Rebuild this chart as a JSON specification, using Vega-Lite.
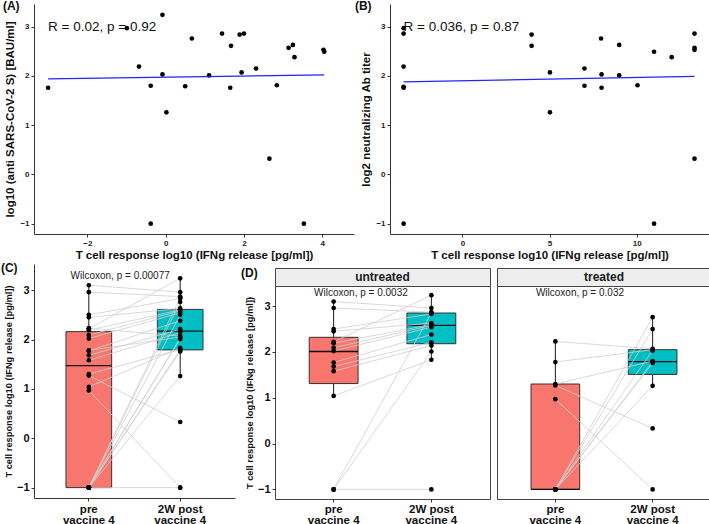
{
  "$schema": "https://vega.github.io/schema/vega-lite/v6.json",
  "padding": 0,
  "background": "white",
  "config": {
    "font": "Liberation Sans",
    "view": {"stroke": null},
    "axis": {"grid": false, "domainColor": "#333", "tickColor": "#333", "labelColor": "#222", "titleColor": "#111", "labelFontWeight": "bold", "titleFontWeight": "bold", "tickSize": 3, "labelPadding": 2},
    "title": {"fontSize": 12, "fontWeight": "bold", "anchor": "start", "frame": "bounds", "color": "#111"}
  },
  "datasets": {
    "A": [
      {"x": -3.0, "y": 1.76}, {"x": -0.99, "y": 2.97}, {"x": -0.68, "y": 2.19}, {"x": -0.38, "y": 1.80}, {"x": -0.38, "y": -1},
      {"x": -0.08, "y": 3.24}, {"x": -0.08, "y": 2.03}, {"x": 0.02, "y": 1.26}, {"x": 0.50, "y": 1.79}, {"x": 0.67, "y": 2.76},
      {"x": 1.11, "y": 2.01}, {"x": 1.44, "y": 2.86}, {"x": 1.65, "y": 1.76}, {"x": 1.67, "y": 2.61}, {"x": 1.89, "y": 2.84},
      {"x": 2.0, "y": 2.86}, {"x": 1.94, "y": 2.07}, {"x": 2.31, "y": 2.15}, {"x": 2.65, "y": 0.32}, {"x": 2.84, "y": 1.81},
      {"x": 3.14, "y": 2.57}, {"x": 3.25, "y": 2.63}, {"x": 3.29, "y": 2.38}, {"x": 3.53, "y": -1}, {"x": 4.03, "y": 2.53},
      {"x": 4.05, "y": 2.49}
    ],
    "Afit": [{"x": -3.0, "y": 1.94}, {"x": 4.05, "y": 2.02}],
    "B": [
      {"x": -3.37, "y": 2.97}, {"x": -3.37, "y": 2.86}, {"x": -3.37, "y": 2.19}, {"x": -3.37, "y": 1.78}, {"x": -3.37, "y": 1.76},
      {"x": -3.37, "y": -1}, {"x": 3.97, "y": 2.84}, {"x": 3.97, "y": 2.61}, {"x": 5.02, "y": 2.07}, {"x": 5.02, "y": 1.26},
      {"x": 7.0, "y": 2.15}, {"x": 7.0, "y": 1.80}, {"x": 7.95, "y": 2.76}, {"x": 7.98, "y": 2.03}, {"x": 7.98, "y": 1.76},
      {"x": 8.99, "y": 2.63}, {"x": 8.99, "y": 2.01}, {"x": 10.04, "y": 1.81}, {"x": 10.99, "y": 2.49}, {"x": 10.99, "y": -1},
      {"x": 12.0, "y": 2.38}, {"x": 13.31, "y": 2.86}, {"x": 13.31, "y": 2.57}, {"x": 13.31, "y": 2.53}, {"x": 13.31, "y": 0.32}
    ],
    "Bfit": [{"x": -3.37, "y": 1.88}, {"x": 13.31, "y": 1.99}],
    "pairs": [
      {"id": "u1", "grp": "untreated", "time": "pre", "value": 3.10}, {"id": "u1", "grp": "untreated", "time": "post", "value": 2.96},
      {"id": "u2", "grp": "untreated", "time": "pre", "value": 2.96}, {"id": "u2", "grp": "untreated", "time": "post", "value": 2.87},
      {"id": "u3", "grp": "untreated", "time": "pre", "value": 2.50}, {"id": "u3", "grp": "untreated", "time": "post", "value": 2.83},
      {"id": "u4", "grp": "untreated", "time": "pre", "value": 2.45}, {"id": "u4", "grp": "untreated", "time": "post", "value": 2.63},
      {"id": "u5", "grp": "untreated", "time": "pre", "value": 2.22}, {"id": "u5", "grp": "untreated", "time": "post", "value": 3.24},
      {"id": "u6", "grp": "untreated", "time": "pre", "value": 2.19}, {"id": "u6", "grp": "untreated", "time": "post", "value": 2.60},
      {"id": "u7", "grp": "untreated", "time": "pre", "value": 2.09}, {"id": "u7", "grp": "untreated", "time": "post", "value": 2.58},
      {"id": "u8", "grp": "untreated", "time": "pre", "value": 2.02}, {"id": "u8", "grp": "untreated", "time": "post", "value": 2.54},
      {"id": "u9", "grp": "untreated", "time": "pre", "value": 1.77}, {"id": "u9", "grp": "untreated", "time": "post", "value": 2.38},
      {"id": "u10", "grp": "untreated", "time": "pre", "value": 1.68}, {"id": "u10", "grp": "untreated", "time": "post", "value": 2.21},
      {"id": "u11", "grp": "untreated", "time": "pre", "value": 1.58}, {"id": "u11", "grp": "untreated", "time": "post", "value": 2.14},
      {"id": "u12", "grp": "untreated", "time": "pre", "value": 1.04}, {"id": "u12", "grp": "untreated", "time": "post", "value": 1.83},
      {"id": "u13", "grp": "untreated", "time": "pre", "value": -1}, {"id": "u13", "grp": "untreated", "time": "post", "value": 2.85},
      {"id": "u14", "grp": "untreated", "time": "pre", "value": -1}, {"id": "u14", "grp": "untreated", "time": "post", "value": 2.01},
      {"id": "u15", "grp": "untreated", "time": "pre", "value": -1}, {"id": "u15", "grp": "untreated", "time": "post", "value": -1},
      {"id": "t1", "grp": "treated", "time": "pre", "value": 2.23}, {"id": "t1", "grp": "treated", "time": "post", "value": 2.07},
      {"id": "t2", "grp": "treated", "time": "pre", "value": 1.78}, {"id": "t2", "grp": "treated", "time": "post", "value": 2.05},
      {"id": "t3", "grp": "treated", "time": "pre", "value": 1.30}, {"id": "t3", "grp": "treated", "time": "post", "value": 1.80},
      {"id": "t4", "grp": "treated", "time": "pre", "value": 1.27}, {"id": "t4", "grp": "treated", "time": "post", "value": 0.33},
      {"id": "t5", "grp": "treated", "time": "pre", "value": 0.97}, {"id": "t5", "grp": "treated", "time": "post", "value": -1},
      {"id": "t6", "grp": "treated", "time": "pre", "value": -1}, {"id": "t6", "grp": "treated", "time": "post", "value": 2.76},
      {"id": "t7", "grp": "treated", "time": "pre", "value": -1}, {"id": "t7", "grp": "treated", "time": "post", "value": 2.50},
      {"id": "t8", "grp": "treated", "time": "pre", "value": -1}, {"id": "t8", "grp": "treated", "time": "post", "value": 2.03},
      {"id": "t9", "grp": "treated", "time": "pre", "value": -1}, {"id": "t9", "grp": "treated", "time": "post", "value": 1.79},
      {"id": "t10", "grp": "treated", "time": "pre", "value": -1}, {"id": "t10", "grp": "treated", "time": "post", "value": 1.76},
      {"id": "t11", "grp": "treated", "time": "pre", "value": -1}, {"id": "t11", "grp": "treated", "time": "post", "value": 1.26}
    ],
    "box": [
      {"panel": "C", "time": "pre", "lower": -1, "q1": -1, "median": 1.47, "q3": 2.16, "upper": 3.10},
      {"panel": "C", "time": "post", "lower": 1.25, "q1": 1.79, "median": 2.17, "q3": 2.61, "upper": 3.24},
      {"panel": "untreated", "time": "pre", "lower": 1.04, "q1": 1.31, "median": 2.01, "q3": 2.32, "upper": 3.10},
      {"panel": "untreated", "time": "post", "lower": 1.83, "q1": 2.18, "median": 2.58, "q3": 2.85, "upper": 3.24},
      {"panel": "treated", "time": "pre", "lower": -1, "q1": -1, "median": -1, "q3": 1.30, "upper": 2.23},
      {"panel": "treated", "time": "post", "lower": 1.26, "q1": 1.51, "median": 1.79, "q3": 2.05, "upper": 2.76}
    ],
    "lab": [
      {"panel": "C", "time": "pre", "value": 3.29, "label": "Wilcoxon, p = 0.00077"},
      {"panel": "untreated", "time": "pre", "value": 3.29, "label": "Wilcoxon, p = 0.0032"},
      {"panel": "treated", "time": "pre", "value": 3.29, "label": "Wilcoxon, p = 0.032"}
    ]
  },
  "spacing": 1,
  "vconcat": [
    {
      "spacing": 0,
      "hconcat": [
        {
          "width": 320, "height": 230,
          "title": {"text": "(A)", "offset": -9, "dx": -2},
          "layer": [
            {
              "data": {"name": "A"},
              "mark": {"type": "circle", "size": 22, "color": "black", "opacity": 1},
              "encoding": {
                "x": {"field": "x", "type": "quantitative", "scale": {"domain": [-3.36, 4.81], "nice": false, "zero": false},
                      "axis": {"values": [-2, 0, 2, 4], "title": "T cell response log10 (IFNg release [pg/ml])", "labelFontSize": 8, "titleFontSize": 11.5, "titlePadding": 2}},
                "y": {"field": "y", "type": "quantitative", "scale": {"domain": [-1.21, 3.46], "nice": false, "zero": false},
                      "axis": {"values": [-1, 0, 1, 2, 3], "title": "log10  (anti SARS-CoV-2 S)  [BAU/ml]", "labelFontSize": 8, "titleFontSize": 11.5, "titlePadding": 4}}
              }
            },
            {
              "data": {"name": "Afit"},
              "mark": {"type": "line", "color": "#2323ff", "strokeWidth": 1.2},
              "encoding": {"x": {"field": "x", "type": "quantitative"}, "y": {"field": "y", "type": "quantitative"}}
            },
            {
              "data": {"values": [{"x": -3.0, "y": 3.0, "label": "R = 0.02, p = 0.92"}]},
              "mark": {"type": "text", "align": "left", "baseline": "middle", "fontSize": 13.5, "color": "#111"},
              "encoding": {"x": {"field": "x", "type": "quantitative"}, "y": {"field": "y", "type": "quantitative"}, "text": {"field": "label"}}
            }
          ]
        },
        {
          "width": 319, "height": 230,
          "title": {"text": "(B)", "offset": -9, "dx": -6},
          "layer": [
            {
              "data": {"name": "B"},
              "mark": {"type": "circle", "size": 22, "color": "black", "opacity": 1},
              "encoding": {
                "x": {"field": "x", "type": "quantitative", "scale": {"domain": [-4.15, 14.14], "nice": false, "zero": false},
                      "axis": {"values": [0, 5, 10], "title": "T cell response log10 (IFNg release [pg/ml])", "labelFontSize": 8, "titleFontSize": 11.5, "titlePadding": 2}},
                "y": {"field": "y", "type": "quantitative", "scale": {"domain": [-1.21, 3.46], "nice": false, "zero": false},
                      "axis": {"values": [-1, 0, 1, 2, 3], "title": "log2 neutralizing Ab titer", "labelFontSize": 8, "titleFontSize": 11.5, "titlePadding": 4}}
              }
            },
            {
              "data": {"name": "Bfit"},
              "mark": {"type": "line", "color": "#2323ff", "strokeWidth": 1.2},
              "encoding": {"x": {"field": "x", "type": "quantitative"}, "y": {"field": "y", "type": "quantitative"}}
            },
            {
              "data": {"values": [{"x": -3.37, "y": 3.0, "label": "R = 0.036, p = 0.87"}]},
              "mark": {"type": "text", "align": "left", "baseline": "middle", "fontSize": 13.5, "color": "#111"},
              "encoding": {"x": {"field": "x", "type": "quantitative"}, "y": {"field": "y", "type": "quantitative"}, "text": {"field": "label"}}
            }
          ]
        }
      ]
    },
    {
      "spacing": 5,
      "hconcat": [
        {
          "width": 201, "height": 234,
          "title": {"text": "(C)", "offset": -11, "dx": -3.5},
          "encoding": {
            "x": {"field": "time", "type": "nominal", "scale": {"type": "band", "domain": ["pre", "post"], "paddingInner": 0.5, "paddingOuter": 0.35},
                  "axis": {"title": null, "labelAngle": 0, "labelExpr": "datum.value == 'pre' ? ['pre', 'vaccine 4'] : ['2W post', 'vaccine 4']", "labelFontSize": 11.5, "labelLineHeight": 11, "labelPadding": 2, "labelColor": "#111"}}
          },
          "layer": [
            {
              "data": {"name": "box"}, "transform": [{"filter": "datum.panel == 'C'"}],
              "mark": {"type": "rule", "color": "#1a1a1a", "strokeWidth": 1},
              "encoding": {
                "y": {"field": "lower", "type": "quantitative", "title": "T cell response log10 (IFNg release [pg/ml])",
                      "scale": {"domain": [-1.21, 3.53], "nice": false, "zero": false},
                      "axis": {"values": [-1, 0, 1, 2, 3], "labelFontSize": 11, "titleFontSize": 9.3, "titlePadding": 3, "labelColor": "#111"}},
                "y2": {"field": "upper"}
              }
            },
            {
              "data": {"name": "box"}, "transform": [{"filter": "datum.panel == 'C'"}],
              "mark": {"type": "bar", "stroke": "#333", "strokeWidth": 1},
              "encoding": {
                "y": {"field": "q1", "type": "quantitative", "title": "T cell response log10 (IFNg release [pg/ml])"},
                "y2": {"field": "q3"},
                "fill": {"field": "time", "type": "nominal", "scale": {"domain": ["pre", "post"], "range": ["#F8766D", "#00BFC4"]}, "legend": null}
              }
            },
            {
              "data": {"name": "box"}, "transform": [{"filter": "datum.panel == 'C'"}],
              "mark": {"type": "bar", "fill": "transparent", "stroke": "#111", "strokeWidth": 1.3},
              "encoding": {
                "y": {"field": "median", "type": "quantitative", "title": "T cell response log10 (IFNg release [pg/ml])"},
                "y2": {"field": "median"}
              }
            },
            {
              "data": {"name": "pairs"},
              "mark": {"type": "line", "color": "#cfcfcf", "strokeWidth": 0.8},
              "encoding": {
                "y": {"field": "value", "type": "quantitative", "title": "T cell response log10 (IFNg release [pg/ml])"},
                "detail": {"field": "id"}
              }
            },
            {
              "data": {"name": "pairs"},
              "mark": {"type": "circle", "size": 22, "color": "black", "opacity": 1},
              "encoding": {
                "y": {"field": "value", "type": "quantitative", "title": "T cell response log10 (IFNg release [pg/ml])"}
              }
            },
            {
              "data": {"name": "lab"}, "transform": [{"filter": "datum.panel == 'C'"}],
              "mark": {"type": "text", "align": "left", "baseline": "middle", "fontSize": 10, "color": "#222"},
              "encoding": {
                "x": {"field": "time", "type": "nominal", "bandPosition": 0.1},
                "y": {"field": "value", "type": "quantitative", "title": "T cell response log10 (IFNg release [pg/ml])"},
                "text": {"field": "label"}
              }
            }
          ]
        },
        {
          "spacing": 5,
          "hconcat": [
            {
              "spacing": 0,
              "bounds": "flush",
              "vconcat": [
                {
                  "width": 215, "height": 3.5,
                  "data": {"values": []},
                  "mark": "point",
                  "encoding": {}
                },
                {
                  "width": 215, "height": 18,
                  "view": {"fill": "#eeeeee", "stroke": "#444"},
                  "title": {"text": "(D)", "offset": -11.5, "dx": -34},
                  "data": {"values": [{"label": "untreated"}]},
                  "mark": {"type": "text", "fontSize": 12, "fontWeight": "bold", "color": "#1a1a1a", "baseline": "middle"},
                  "encoding": {"text": {"field": "label"}}
                },
                {
                  "width": 215, "height": 213,
                  "view": {"stroke": "#444"},
                  "encoding": {
                    "x": {"field": "time", "type": "nominal", "scale": {"type": "band", "domain": ["pre", "post"], "paddingInner": 0.5, "paddingOuter": 0.35},
                          "axis": {"title": null, "domain": false, "labelAngle": 0, "labelExpr": "datum.value == 'pre' ? ['pre', 'vaccine 4'] : ['2W post', 'vaccine 4']", "labelFontSize": 11.5, "labelLineHeight": 11, "labelPadding": 1, "labelColor": "#111"}}
                  },
                  "layer": [
                    {
                      "data": {"name": "box"}, "transform": [{"filter": "datum.panel == 'untreated'"}],
                      "mark": {"type": "rule", "color": "#1a1a1a", "strokeWidth": 1},
                      "encoding": {
                        "y": {"field": "lower", "type": "quantitative", "title": "T cell response log10 (IFNg release [pg/ml])",
                              "scale": {"domain": [-1.21, 3.44], "nice": false, "zero": false},
                              "axis": {"values": [-1, 0, 1, 2, 3], "domain": false, "labelFontSize": 11, "titleFontSize": 9.3, "titlePadding": 3, "labelColor": "#111"}},
                        "y2": {"field": "upper"}
                      }
                    },
                    {
                      "data": {"name": "box"}, "transform": [{"filter": "datum.panel == 'untreated'"}],
                      "mark": {"type": "bar", "stroke": "#333", "strokeWidth": 1},
                      "encoding": {
                        "y": {"field": "q1", "type": "quantitative", "title": "T cell response log10 (IFNg release [pg/ml])"},
                        "y2": {"field": "q3"},
                        "fill": {"field": "time", "type": "nominal", "scale": {"domain": ["pre", "post"], "range": ["#F8766D", "#00BFC4"]}, "legend": null}
                      }
                    },
                    {
                      "data": {"name": "box"}, "transform": [{"filter": "datum.panel == 'untreated'"}],
                      "mark": {"type": "bar", "fill": "transparent", "stroke": "#111", "strokeWidth": 1.3},
                      "encoding": {
                        "y": {"field": "median", "type": "quantitative", "title": "T cell response log10 (IFNg release [pg/ml])"},
                        "y2": {"field": "median"}
                      }
                    },
                    {
                      "data": {"name": "pairs"}, "transform": [{"filter": "datum.grp == 'untreated'"}],
                      "mark": {"type": "line", "color": "#cfcfcf", "strokeWidth": 0.8},
                      "encoding": {
                        "y": {"field": "value", "type": "quantitative", "title": "T cell response log10 (IFNg release [pg/ml])"},
                        "detail": {"field": "id"}
                      }
                    },
                    {
                      "data": {"name": "pairs"}, "transform": [{"filter": "datum.grp == 'untreated'"}],
                      "mark": {"type": "circle", "size": 22, "color": "black", "opacity": 1},
                      "encoding": {
                        "y": {"field": "value", "type": "quantitative", "title": "T cell response log10 (IFNg release [pg/ml])"}
                      }
                    },
                    {
                      "data": {"name": "lab"}, "transform": [{"filter": "datum.panel == 'untreated'"}],
                      "mark": {"type": "text", "align": "left", "baseline": "middle", "fontSize": 10, "color": "#222"},
                      "encoding": {
                        "x": {"field": "time", "type": "nominal", "bandPosition": 0.1},
                        "y": {"field": "value", "type": "quantitative", "title": "T cell response log10 (IFNg release [pg/ml])"},
                        "text": {"field": "label"}
                      }
                    }
                  ]
                }
              ]
            },
            {
              "spacing": 0,
              "bounds": "flush",
              "vconcat": [
                {
                  "width": 214, "height": 3.5,
                  "data": {"values": []},
                  "mark": "point",
                  "encoding": {}
                },
                {
                  "width": 214, "height": 18,
                  "view": {"fill": "#eeeeee", "stroke": "#444"},
                  "data": {"values": [{"label": "treated"}]},
                  "mark": {"type": "text", "fontSize": 12, "fontWeight": "bold", "color": "#1a1a1a", "baseline": "middle"},
                  "encoding": {"text": {"field": "label"}}
                },
                {
                  "width": 214, "height": 213,
                  "view": {"stroke": "#444"},
                  "encoding": {
                    "x": {"field": "time", "type": "nominal", "scale": {"type": "band", "domain": ["pre", "post"], "paddingInner": 0.5, "paddingOuter": 0.35},
                          "axis": {"title": null, "domain": false, "labelAngle": 0, "labelExpr": "datum.value == 'pre' ? ['pre', 'vaccine 4'] : ['2W post', 'vaccine 4']", "labelFontSize": 11.5, "labelLineHeight": 11, "labelPadding": 1, "labelColor": "#111"}}
                  },
                  "layer": [
                    {
                      "data": {"name": "box"}, "transform": [{"filter": "datum.panel == 'treated'"}],
                      "mark": {"type": "rule", "color": "#1a1a1a", "strokeWidth": 1},
                      "encoding": {
                        "y": {"field": "lower", "type": "quantitative", "scale": {"domain": [-1.21, 3.44], "nice": false, "zero": false}, "axis": null},
                        "y2": {"field": "upper"}
                      }
                    },
                    {
                      "data": {"name": "box"}, "transform": [{"filter": "datum.panel == 'treated'"}],
                      "mark": {"type": "bar", "stroke": "#333", "strokeWidth": 1},
                      "encoding": {
                        "y": {"field": "q1", "type": "quantitative", "axis": null},
                        "y2": {"field": "q3"},
                        "fill": {"field": "time", "type": "nominal", "scale": {"domain": ["pre", "post"], "range": ["#F8766D", "#00BFC4"]}, "legend": null}
                      }
                    },
                    {
                      "data": {"name": "box"}, "transform": [{"filter": "datum.panel == 'treated'"}],
                      "mark": {"type": "bar", "fill": "transparent", "stroke": "#111", "strokeWidth": 1.3},
                      "encoding": {
                        "y": {"field": "median", "type": "quantitative", "axis": null},
                        "y2": {"field": "median"}
                      }
                    },
                    {
                      "data": {"name": "pairs"}, "transform": [{"filter": "datum.grp == 'treated'"}],
                      "mark": {"type": "line", "color": "#cfcfcf", "strokeWidth": 0.8},
                      "encoding": {
                        "y": {"field": "value", "type": "quantitative", "axis": null},
                        "detail": {"field": "id"}
                      }
                    },
                    {
                      "data": {"name": "pairs"}, "transform": [{"filter": "datum.grp == 'treated'"}],
                      "mark": {"type": "circle", "size": 22, "color": "black", "opacity": 1},
                      "encoding": {
                        "y": {"field": "value", "type": "quantitative", "axis": null}
                      }
                    },
                    {
                      "data": {"name": "lab"}, "transform": [{"filter": "datum.panel == 'treated'"}],
                      "mark": {"type": "text", "align": "left", "baseline": "middle", "fontSize": 10, "color": "#222"},
                      "encoding": {
                        "x": {"field": "time", "type": "nominal", "bandPosition": 0.1},
                        "y": {"field": "value", "type": "quantitative", "axis": null},
                        "text": {"field": "label"}
                      }
                    }
                  ]
                }
              ]
            }
          ]
        }
      ]
    }
  ]
}
